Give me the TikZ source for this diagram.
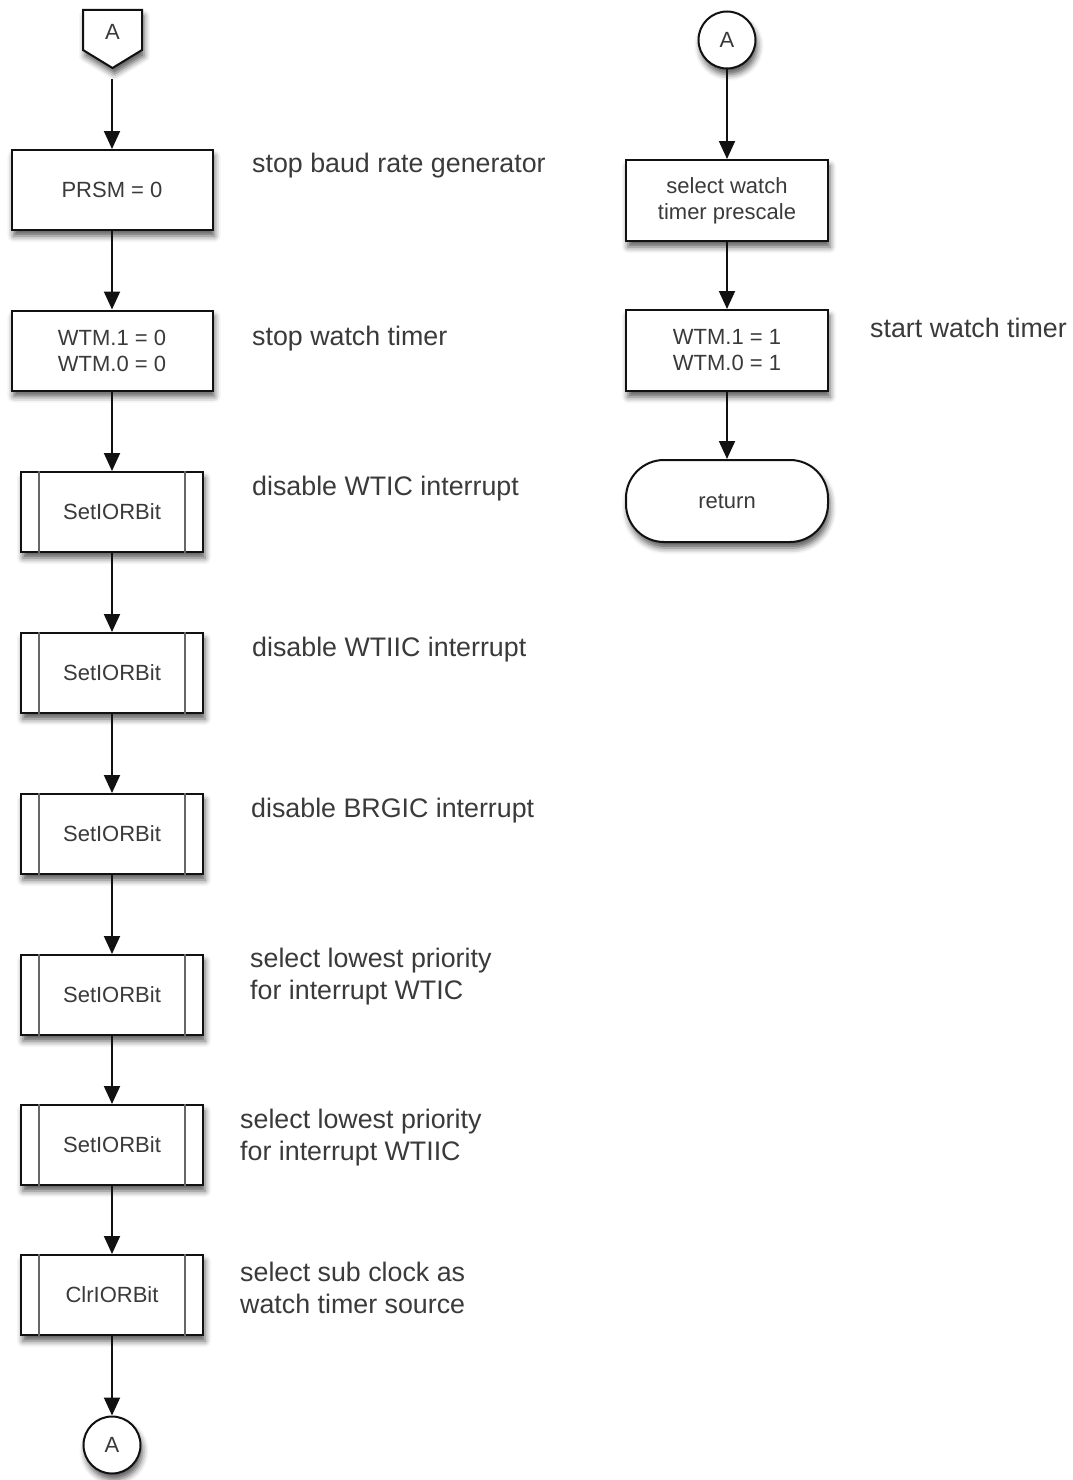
\documentclass[tikz,border=0pt]{standalone}
\usepackage{fontspec}
\setmainfont{Liberation Sans}
\usetikzlibrary{shapes.misc,shadows.blur,arrows.meta}

\definecolor{ink}{HTML}{111111}
\definecolor{txt}{HTML}{3a3a3a}
\definecolor{bar}{HTML}{666666}

\begin{document}
\begin{tikzpicture}[x=1pt,y=-1pt,
  outline/.style={draw=ink, line width=2pt, fill=white,
    blur shadow={shadow xshift=2pt, shadow yshift=-6pt,
      shadow blur radius=6pt, shadow opacity=65}},
  base/.style={outline, text=txt,
    font=\fontsize{22}{26}\selectfont, align=center, inner sep=0pt},
  procbox/.style={base, rectangle, minimum width=201pt, minimum height=80pt},
  predef/.style={base, rectangle, minimum width=182pt, minimum height=80pt},
  connector/.style={base, circle, minimum size=57pt},
  terminal/.style={base, rectangle, rounded corners=38pt,
    minimum width=202pt, minimum height=82pt},
  flow/.style={draw=ink, line width=2pt, -{Triangle[width=16pt,length=18pt]}},
  lbl/.style={anchor=west, text=txt, font=\fontsize{26.8}{32}\selectfont,
    align=left, inner sep=0pt},
  sidebar/.style={draw=bar, line width=2pt}
]
\useasboundingbox (0,0) rectangle (1073,1480);

% left column: off-page entry connector
\path[outline] (83,10) -- (142,10) -- (142,50) -- (112.5,68) -- (83,50) -- cycle;
\node[text=txt, font=\fontsize{22}{26}\selectfont, inner sep=0pt] (offA) at (112.5,32) {A};
\coordinate (offTip) at (112,68);

\node[procbox] (b1) at (112,190) {PRSM = 0};
\node[procbox] (b2) at (112,350.5) {WTM.1 = 0\\WTM.0 = 0};
\node[predef] (s1) at (112,512) {SetIORBit};
\node[predef] (s2) at (112,673) {SetIORBit};
\node[predef] (s3) at (112,834) {SetIORBit};
\node[predef] (s4) at (112,995) {SetIORBit};
\node[predef] (s5) at (112,1145) {SetIORBit};
\node[predef] (s6) at (112,1295) {ClrIORBit};
\node[connector] (cB) at (112,1445) {A};

\foreach \n in {s1,s2,s3,s4,s5,s6}{
  \draw[sidebar] ([xshift=19pt]\n.north west) -- ([xshift=19pt]\n.south west);
  \draw[sidebar] ([xshift=-19pt]\n.north east) -- ([xshift=-19pt]\n.south east);
}

\draw[flow, shorten <=11pt] (offTip) -- (b1.north);
\draw[flow] (b1) -- (b2);
\draw[flow] (b2) -- (s1);
\draw[flow] (s1) -- (s2);
\draw[flow] (s2) -- (s3);
\draw[flow] (s3) -- (s4);
\draw[flow] (s4) -- (s5);
\draw[flow] (s5) -- (s6);
\draw[flow] (s6) -- (cB);

% right column
\node[connector] (cA) at (727,40) {A};
\node[procbox, minimum width=202pt, minimum height=81pt] (r1) at (727,200.5) {select watch\\timer prescale};
\node[procbox, minimum width=202pt, minimum height=81pt] (r2) at (727,350.5) {WTM.1 = 1\\WTM.0 = 1};
\node[terminal] (ret) at (727,501) {return};

\draw[flow] (cA) -- (r1);
\draw[flow] (r1) -- (r2);
\draw[flow] (r2) -- (ret);

% annotations
\node[lbl] (l1) at (252,166) {stop baud rate generator};
\node[lbl] (l2) at (252,339) {stop watch timer};
\node[lbl] (l3) at (252,489) {disable WTIC interrupt};
\node[lbl] (l4) at (252,650) {disable WTIIC interrupt};
\node[lbl] (l5) at (251,811) {disable BRGIC interrupt};
\node[lbl] (l6) at (250,977) {select lowest priority\\for interrupt WTIC};
\node[lbl] (l7) at (240,1138) {select lowest priority\\for interrupt WTIIC};
\node[lbl] (l8) at (240,1288) {select sub clock as\\watch timer source};
\node[lbl] (l9) at (870,328) {start watch timer};
\end{tikzpicture}
\end{document}
